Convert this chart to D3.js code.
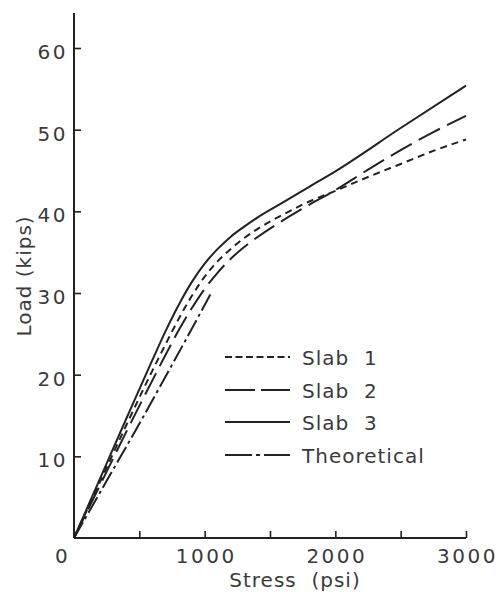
<!DOCTYPE html>
<html>
<head>
<meta charset="utf-8">
<script src="https://cdn.jsdelivr.net/npm/d3@7"></script>
<style>
  html, body { margin: 0; padding: 0; background: #fff; }
  svg { display: block; }
  text { font-family: "DejaVu Sans", sans-serif; fill: #3a3a3a; }
</style>
</head>
<body>
<svg id="chart" width="502" height="595"></svg>
<script>
// ---- data ----
const slab1 = [[0,0],[200,6.9],[400,13.8],[600,20.5],[700,23.7],[800,26.8],[900,29.6],[1000,32],[1100,33.9],[1200,35.4],[1300,36.7],[1400,37.8],[1600,39.6],[1800,41.2],[2000,42.5],[2250,44.2],[2500,45.8],[2750,47.4],[3000,48.8]];
const slab2 = [[0,0],[200,6.5],[400,13],[600,19.3],[700,22.4],[800,25.4],[900,28.1],[1000,30.5],[1100,32.5],[1200,34.2],[1300,35.6],[1400,36.8],[1600,38.9],[1800,40.8],[2000,42.6],[2250,45.1],[2500,47.5],[2750,49.7],[3000,51.7]];
const slab3 = [[0,0],[200,7.3],[400,14.6],[600,21.8],[700,25.3],[800,28.5],[900,31.3],[1000,33.6],[1100,35.4],[1200,36.9],[1300,38.1],[1400,39.2],[1600,41.1],[1800,43],[2000,44.9],[2500,50.2],[3000,55.4]];
const theoretical = [[0,0],[250,7],[500,14],[750,21.2],[1050,30]];
const xTicks = [0,500,1000,1500,2000,2500,3000];
const xTickLabels = ["0","","1000","","2000","","3000"];
const yTicks = [10,20,30,40,50,60];
const legendLabels = ["Slab  1","Slab  2","Slab  3","Theoretical"];
const xTitle = "Stress  (psi)";
const yTitle = "Load (kips)";

// ---- layout ----
const svg = d3.select("#chart");
const x = d3.scaleLinear().domain([0,3000]).range([74,466]);
const y = d3.scaleLinear().domain([0,60]).range([538,48]);
const ink = "#222";

// axes lines
svg.append("line").attr("x1",x(0)).attr("x2",x(0)).attr("y1",y(0)).attr("y2",13)
  .attr("stroke",ink).attr("stroke-width",2);
svg.append("line").attr("x1",x(0)).attr("x2",x(3000)).attr("y1",y(0)).attr("y2",y(0))
  .attr("stroke",ink).attr("stroke-width",2);

// y axis
const yAxis = svg.append("g").attr("transform",`translate(${x(0)},0)`)
  .call(d3.axisLeft(y).tickValues(yTicks).tickSize(-7).tickSizeOuter(0).tickPadding(6).tickFormat(d3.format("d")));
yAxis.select(".domain").remove();
yAxis.selectAll(".tick line").attr("stroke",ink).attr("stroke-width",1.6);
yAxis.selectAll(".tick text").attr("font-size",20).attr("letter-spacing","2.5px")
  .attr("dy","0.52em").attr("fill","#3a3a3a").attr("font-family","DejaVu Sans");

// x axis
const xAxis = svg.append("g").attr("transform",`translate(0,${y(0)})`)
  .call(d3.axisBottom(x).tickValues(xTicks).tickSize(-7).tickSizeOuter(0).tickPadding(11)
    .tickFormat((d,i)=>xTickLabels[i]));
xAxis.select(".domain").remove();
xAxis.selectAll(".tick line").attr("stroke",ink).attr("stroke-width",1.6);
xAxis.selectAll(".tick text").attr("font-size",20).attr("letter-spacing","2.5px")
  .attr("fill","#3a3a3a").attr("font-family","DejaVu Sans")
  .attr("dx",(d)=> d===0 ? "-12" : "1");

// titles
svg.append("text").attr("x",295).attr("y",587).attr("text-anchor","middle")
  .attr("font-size",20).attr("letter-spacing","1px").style("white-space","pre").text(xTitle);
svg.append("text").attr("transform","translate(31,276) rotate(-90)").attr("text-anchor","middle")
  .attr("font-size",20).attr("letter-spacing","1px").text(yTitle);

// curves
const line = d3.line().x(d=>x(d[0])).y(d=>y(d[1])).curve(d3.curveMonotoneX);
const series = [
  {data: slab1, dash: "7,5", leg: "7,3.5"},
  {data: slab2, dash: "24,8", leg: "30,6"},
  {data: slab3, dash: null, leg: null},
  {data: theoretical, dash: "18,4,3,4", leg: "27,4,4,4"}
];
series.forEach(s=>{
  svg.append("path").attr("d",line(s.data)).attr("fill","none")
    .attr("stroke",ink).attr("stroke-width",2)
    .attr("stroke-dasharray",s.dash);
});

// legend
const legY = [357,390,422,455];
series.forEach((s,i)=>{
  svg.append("line").attr("x1",225).attr("x2",290).attr("y1",legY[i]).attr("y2",legY[i])
    .attr("stroke",ink).attr("stroke-width",2).attr("stroke-dasharray",s.leg);
  svg.append("text").attr("x",302).attr("y",legY[i]+8).attr("font-size",20)
    .attr("letter-spacing","1px").style("white-space","pre").text(legendLabels[i]);
});
</script>
</body>
</html>
